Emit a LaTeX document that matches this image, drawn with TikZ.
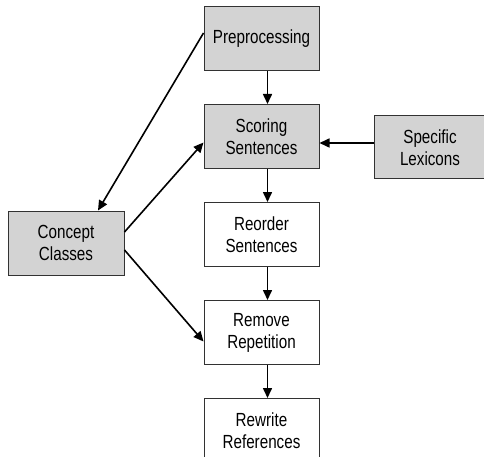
\documentclass[tikz,border=0pt]{standalone}
\usepackage{fontspec}
\setmainfont{Liberation Sans}[FakeStretch=0.8]
\usepackage{xcolor}
\usepackage{tikz}
\usetikzlibrary{arrows.meta,positioning}
\definecolor{BoxGray}{RGB}{211,211,211}
\definecolor{EdgeGray}{RGB}{50,50,50}

\begin{document}
\begin{tikzpicture} [x=1pt, y=1pt, >={Triangle[length=10pt,width=9pt]},
       every node/.style={font=\fontsize{19pt}{22pt}\selectfont},
       stage/.style = {rectangle, minimum width=115pt, minimum height=64pt,
                       draw=EdgeGray, line width=1pt, align=center, inner sep=2pt},
       source/.style = {stage, fill=BoxGray},
       flow/.style = {->, black, line width=1.6pt}]
	\useasboundingbox (0,0) rectangle (484,-457);
	%% Main pipeline
	\node [source] (prep) at (261.5,-38.5) {Preprocessing};
	\node [source, below=33pt of prep] (score) {Scoring\\Sentences};
	\node [stage, below=33pt of score] (reorder) {Reorder\\Sentences};
	\node [stage, below=33pt of reorder] (remove) {Remove\\Repetition};
	\node [stage, below=33pt of remove] (rewrite) {Rewrite\\References};
	
	%% Side inputs
	\node [source, minimum width=112pt, minimum height=63pt,
	       right=54pt of score, yshift=-11pt] (lex) {Specific\\Lexicons};
	\node [source, minimum width=116pt, left=79pt of reorder, yshift=-8.5pt] (concept) {Concept\\Classes};
	
	%% Simple paths
	\draw[flow] ([xshift=6pt]prep.south) -- ([xshift=6pt]score.north);
	\draw[flow] ([xshift=6pt]score.south) -- ([xshift=6pt]reorder.north);
	\draw[flow] ([xshift=6pt]reorder.south) -- ([xshift=6pt]remove.north);
	\draw[flow] ([xshift=6pt]remove.south) -- ([xshift=6pt]rewrite.north);
	\draw[flow] ([yshift=4.5pt]lex.west) -- ([yshift=-6.5pt]score.east);
	%% Concept class links
	\draw[flow] ([yshift=5.5pt]prep.west) -- ([xshift=32pt]concept.north);
	\draw[flow] ([yshift=11pt]concept.east) -- ([yshift=-6pt]score.west);
	\draw[flow] ([yshift=-7pt]concept.east) -- ([yshift=-9pt]remove.west);
\end{tikzpicture}
\end{document}
